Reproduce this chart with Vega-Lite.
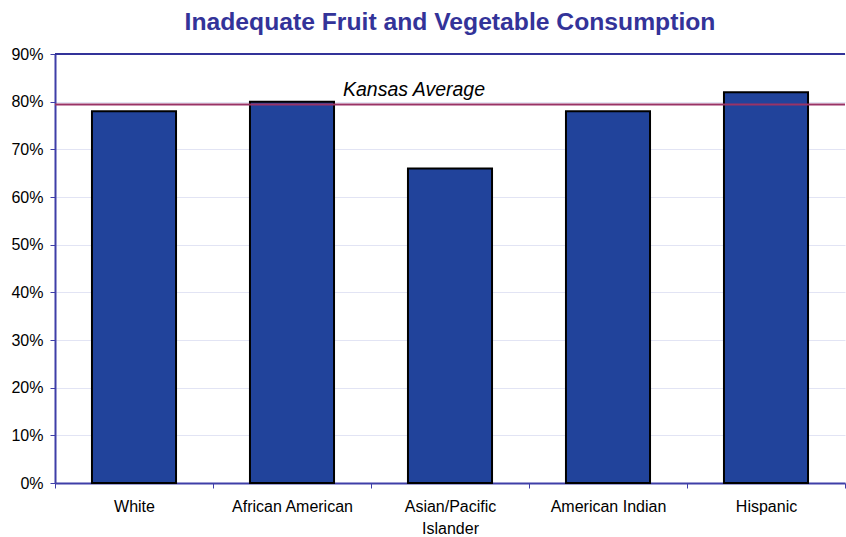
{
  "$schema": "https://vega.github.io/schema/vega-lite/v6.json",
  "width": 790,
  "height": 429,
  "autosize": {"type": "none"},
  "padding": {"left": 55, "top": 54, "right": 1, "bottom": 54},
  "background": "white",
  "title": {
    "text": "Inadequate Fruit and Vegetable Consumption",
    "font": "Liberation Sans",
    "fontSize": 24.7,
    "fontWeight": "bold",
    "color": "#333399",
    "anchor": "middle",
    "offset": 11
  },
  "config": {
    "view": {"stroke": null},
    "axis": {"labelFont": "Liberation Sans", "labelFontSize": 16, "labelColor": "#000000", "titleFont": "Liberation Sans"}
  },
  "datasets": {
    "groups": [
      {"group": "White", "pct": 78},
      {"group": "African American", "pct": 80},
      {"group": "Asian/Pacific Islander", "pct": 66},
      {"group": "American Indian", "pct": 78},
      {"group": "Hispanic", "pct": 82}
    ],
    "avg": [{"label": "Kansas Average", "value": 79.4, "group": "Asian/Pacific Islander"}],
    "top": [{"value": 90}]
  },
  "layer": [
    {
      "data": {"name": "groups"},
      "mark": {"type": "bar", "fill": "#21439B", "stroke": "#000000", "strokeWidth": 2, "width": {"band": 0.532}},
      "encoding": {
        "x": {
          "field": "group", "type": "nominal", "sort": null,
          "scale": {"paddingInner": 0, "paddingOuter": 0},
          "axis": {
            "title": null, "labelAngle": 0, "domainColor": "#3f3fa8", "domainWidth": 2,
            "tickColor": "#3f3fa8", "tickSize": 5, "tickBand": "extent", "labelPadding": 10,
            "labelExpr": "datum.value == 'Asian/Pacific Islander' ? ['Asian/Pacific', 'Islander'] : datum.value",
            "labelLineHeight": 22
          }
        },
        "y": {
          "field": "pct", "type": "quantitative",
          "scale": {"domain": [0, 90], "nice": false},
          "axis": {
            "title": null, "values": [0,10,20,30,40,50,60,70,80,90],
            "labelExpr": "datum.value + '%'", "domainColor": "#3f3fa8", "domainWidth": 2,
            "tickColor": "#3f3fa8", "tickSize": 5, "labelPadding": 7,
            "gridColor": "#e2e4f4", "gridWidth": 1
          }
        }
      }
    },
    {
      "data": {"name": "top"},
      "mark": {"type": "rule", "color": "#333399", "strokeWidth": 2},
      "encoding": {"y": {"field": "value", "type": "quantitative"}}
    },
    {
      "data": {"name": "avg"},
      "mark": {"type": "rule", "color": "#993366", "strokeWidth": 2},
      "encoding": {"y": {"field": "value", "type": "quantitative"}}
    },
    {
      "data": {"name": "avg"},
      "mark": {"type": "text", "font": "Liberation Sans", "fontSize": 19.5, "fontStyle": "italic", "color": "#000000", "dx": -36, "dy": -15},
      "encoding": {
        "x": {"field": "group", "type": "nominal", "sort": null},
        "y": {"field": "value", "type": "quantitative"},
        "text": {"field": "label"}
      }
    }
  ]
}
